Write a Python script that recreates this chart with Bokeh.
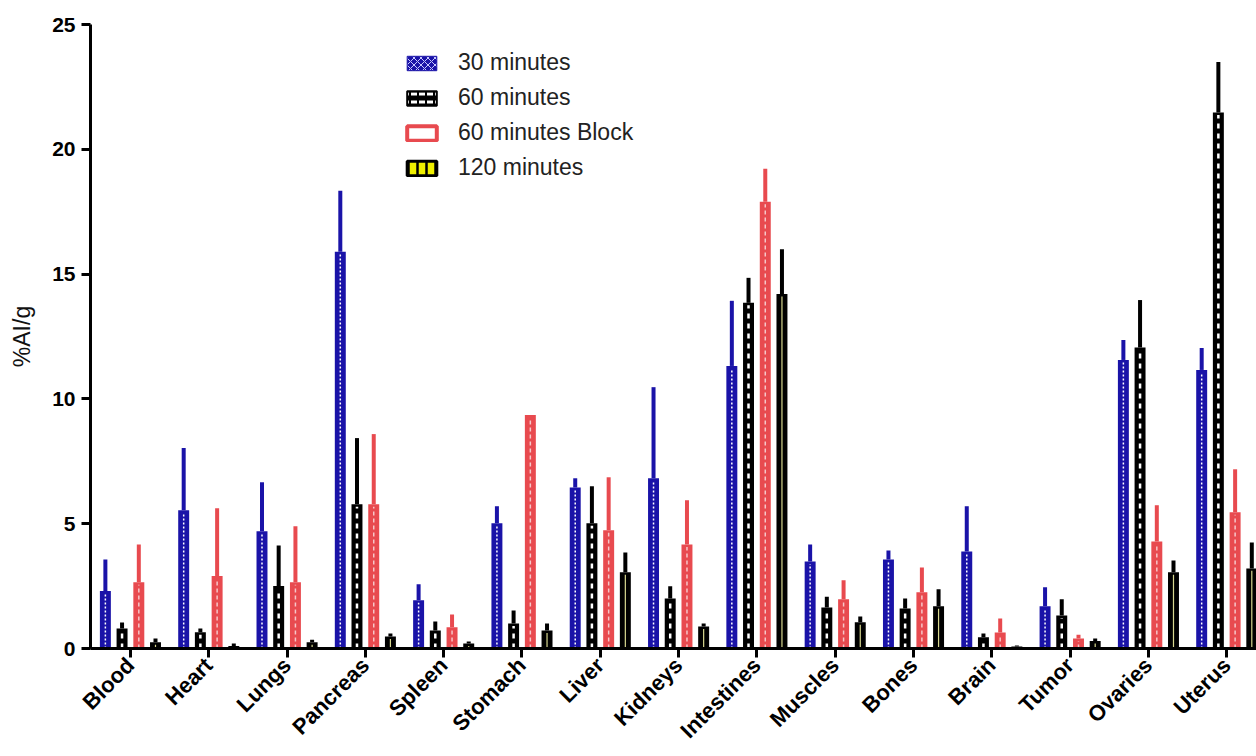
from math import pi
from bokeh.plotting import figure
from bokeh.models import ColumnDataSource, Range1d, FixedTicker, Legend, LegendItem
from bokeh.embed import file_html
from bokeh.resources import INLINE

categories = ["Blood", "Heart", "Lungs", "Pancreas", "Spleen", "Stomach", "Liver",
              "Kidneys", "Intestines", "Muscles", "Bones", "Brain", "Tumor",
              "Ovaries", "Uterus"]

m30 = [2.30, 5.54, 4.70, 15.90, 1.93, 5.02, 6.45, 6.82, 11.32, 3.49, 3.57, 3.89, 1.69, 11.56, 11.16]
m30_sd = [1.27, 2.49, 1.96, 2.44, 0.64, 0.68, 0.37, 3.65, 2.61, 0.68, 0.36, 1.81, 0.76, 0.80, 0.88]

m60 = [0.80, 0.65, 2.50, 5.78, 0.72, 1.00, 5.02, 2.00, 13.85, 1.64, 1.60, 0.45, 1.32, 12.06, 21.47]
m60_sd = [0.24, 0.15, 1.63, 2.65, 0.36, 0.52, 1.48, 0.49, 1.00, 0.43, 0.40, 0.15, 0.65, 1.90, 2.03]

m60b = [2.65, 2.90, 2.65, 5.78, 0.85, 9.35, 4.74, 4.17, 17.90, 1.97, 2.25, 0.64, 0.40, 4.29, 5.46]
m60b_sd = [1.52, 2.72, 2.25, 2.81, 0.51, 0.00, 2.12, 1.77, 1.32, 0.76, 1.00, 0.56, 0.15, 1.45, 1.72]

m120 = [0.25, 0.10, 0.25, 0.48, 0.20, 0.72, 3.05, 0.88, 14.20, 1.05, 1.69, 0.08, 0.30, 3.05, 3.21]
m120_sd = [0.15, 0.10, 0.10, 0.12, 0.08, 0.28, 0.80, 0.12, 1.80, 0.23, 0.68, 0.04, 0.10, 0.48, 1.04]

series_names = ["30 minutes", "60 minutes", "60 minutes Block", "120 minutes"]
y_ticks = [0, 5, 10, 15, 20, 25]

BLUE = "#1a13a8"
RED = "#e84a4f"
BLACK = "#000000"
FONT = "Liberation Sans"

p = figure(width=1256, height=756, output_backend="svg", toolbar_location=None,
           x_range=Range1d(-0.51, 14.38), y_range=Range1d(0, 25),
           min_border_left=90, min_border_right=0, min_border_top=24,
           min_border_bottom=108)
p.outline_line_color = None
p.xgrid.visible = False
p.ygrid.visible = False
p.background_fill_color = "white"

series = [
    (m30, m30_sd, -0.32, BLUE, "white", "2 2", 1.5),
    (m60, m60_sd, -0.107, BLACK, "white", "5 5", 2.5),
    (m60b, m60b_sd, 0.107, RED, "#f6c6c8", "4 3", 1.5),
    (m120, m120_sd, 0.32, BLACK, "#d8d890", "solid", 1.2),
]

for vals, sd, off, col, stripe, dash, sw in series:
    xs = [i + off for i in range(len(categories))]
    src = ColumnDataSource(dict(
        x=xs, top=vals, err=[v + s for v, s in zip(vals, sd)],
        zero=[0] * len(vals), stripe_top=[max(v - 0.1, 0) for v in vals]))
    p.segment(x0="x", y0="top", x1="x", y1="err", source=src,
              line_color=col, line_width=4)
    p.vbar(x="x", top="top", bottom=0, width=0.14, source=src,
           fill_color=col, line_color=None)
    p.segment(x0="x", y0="zero", x1="x", y1="stripe_top", source=src,
              line_color=stripe, line_width=sw, line_dash=dash)

# legend-only renderers (placed outside the visible ranges)
off_x = [-20]
off_top = [-10]
off_bot = [-11]
l1 = p.vbar(x=off_x, top=off_top, bottom=off_bot, width=0.14, fill_color=BLUE,
            line_color=BLUE, hatch_pattern="diagonal_cross", hatch_color="#c8c8ff",
            hatch_scale=7, hatch_weight=1)
l2 = p.vbar(x=off_x, top=off_top, bottom=off_bot, width=0.14, fill_color=BLACK,
            line_color=BLACK, line_width=2, hatch_pattern="horizontal_dash",
            hatch_color="white", hatch_scale=8, hatch_weight=3)
l3 = p.vbar(x=off_x, top=off_top, bottom=off_bot, width=0.14, fill_color="white",
            line_color=RED, line_width=4)
l4 = p.vbar(x=off_x, top=off_top, bottom=off_bot, width=0.14, fill_color="#f0f000",
            line_color=BLACK, line_width=3, hatch_pattern="vertical_line",
            hatch_color=BLACK, hatch_scale=9, hatch_weight=2.5)

legend = Legend(items=[LegendItem(label=n, renderers=[r])
                       for n, r in zip(series_names, [l1, l2, l3, l4])],
                location=(313, 467), glyph_width=37, glyph_height=18,
                label_standoff=18, spacing=8, padding=0, margin=0,
                border_line_color=None, background_fill_alpha=0,
                label_text_font=FONT, label_text_font_size="23px",
                label_text_color="#222222")
p.add_layout(legend)

# axes
p.yaxis.ticker = FixedTicker(ticks=y_ticks)
p.yaxis.minor_tick_line_color = None
p.yaxis.axis_line_width = 3
p.yaxis.major_tick_line_width = 3
p.yaxis.major_tick_out = 9
p.yaxis.major_tick_in = 0
p.yaxis.major_label_text_font = FONT
p.yaxis.major_label_text_font_style = "bold"
p.yaxis.major_label_text_font_size = "21px"
p.yaxis.major_label_text_color = "black"
p.yaxis.major_label_standoff = 6
p.yaxis.axis_label = "%AI/g"
p.yaxis.axis_label_text_font = FONT
p.yaxis.axis_label_text_font_style = "normal"
p.yaxis.axis_label_text_font_size = "23px"
p.yaxis.axis_label_text_color = "#111111"
p.yaxis.axis_label_standoff = 14

p.xaxis.ticker = FixedTicker(ticks=list(range(len(categories))))
p.xaxis.major_label_overrides = {i: c for i, c in enumerate(categories)}
p.xaxis.major_label_orientation = pi / 4
p.xaxis.minor_tick_line_color = None
p.xaxis.axis_line_width = 3
p.xaxis.major_tick_line_width = 3
p.xaxis.major_tick_out = 9
p.xaxis.major_tick_in = 0
p.xaxis.major_label_text_font = FONT
p.xaxis.major_label_text_font_style = "bold"
p.xaxis.major_label_text_font_size = "22px"
p.xaxis.major_label_text_color = "black"
p.xaxis.major_label_standoff = 4

open("out.html", "w").write(file_html(p, INLINE))
